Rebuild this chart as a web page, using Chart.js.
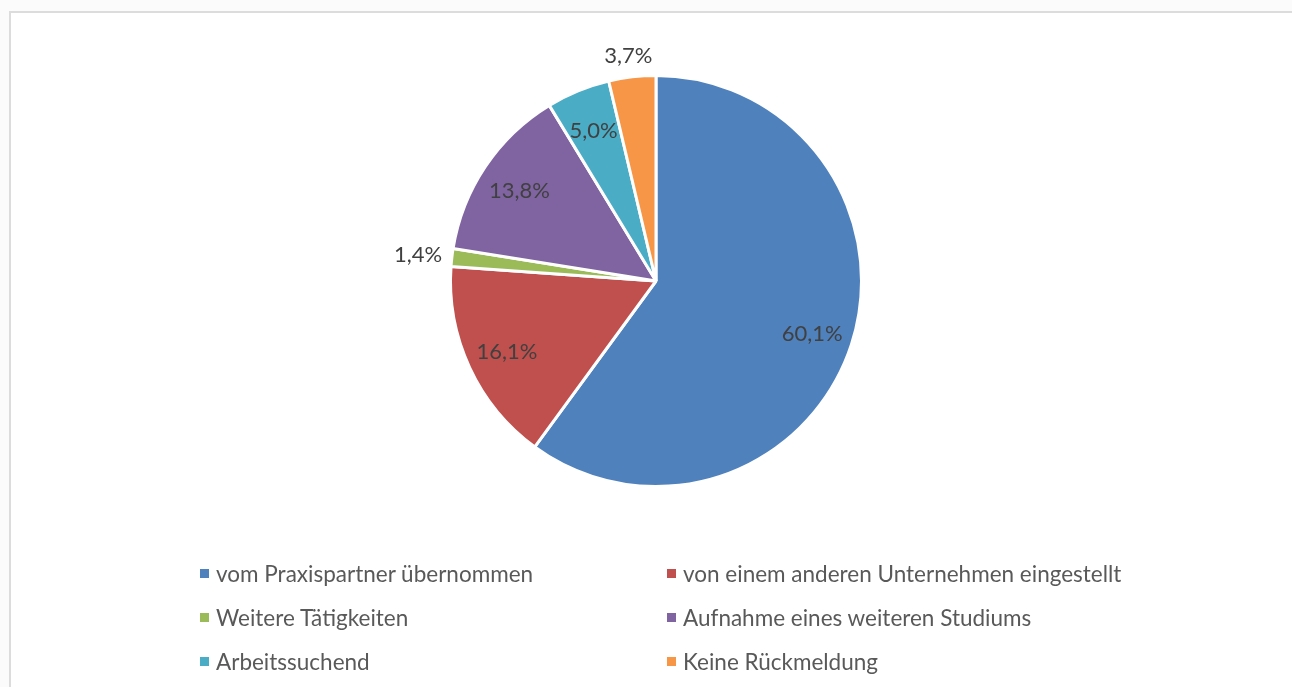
<!DOCTYPE html>
<html>
<head>
<meta charset="utf-8">
<script src="https://cdn.jsdelivr.net/npm/chart.js@4.4.1/dist/chart.umd.min.js"></script>
<style>
  html, body { margin: 0; padding: 0; background: #fbfbfb; width: 1292px; height: 687px; overflow: hidden; }
  #frame { position: absolute; left: 9px; top: 11px; width: 1300px; height: 700px; border: 2px solid #dcdcdc; background: #fff; box-sizing: border-box; }
  #wrap { position: absolute; left: 0; top: 0; width: 1292px; height: 687px; }
  #legend { position: absolute; left: 200px; top: 551px; display: grid; grid-template-columns: 467px 467px; grid-auto-rows: 44px; font-family: Lato, "Open Sans", sans-serif; font-size: 22.5px; color: #595959; }
  .item { display: flex; align-items: center; white-space: nowrap; }
  .sw { width: 9px; height: 9px; margin-right: 7px; flex: none; }
</style>
</head>
<body>
<div id="frame"></div>
<div id="wrap"><canvas id="c" width="1292" height="687"></canvas></div>
<div id="legend"></div>
<script>
const categories = [
  "vom Praxispartner übernommen",
  "von einem anderen Unternehmen eingestellt",
  "Weitere Tätigkeiten",
  "Aufnahme eines weiteren Studiums",
  "Arbeitssuchend",
  "Keine Rückmeldung"
];
const values = [60.1, 16.1, 1.4, 13.8, 5.0, 3.7];
const colors = ["#4F81BD", "#C0504D", "#9BBB59", "#8064A2", "#4BACC6", "#F79646"];

const fmt = v => v.toFixed(1).replace('.', ',') + '%';

const labelPlugin = {
  id: 'sliceLabels',
  afterDatasetsDraw(chart) {
    const ctx = chart.ctx;
    const meta = chart.getDatasetMeta(0);
    ctx.save();
    ctx.font = '22px Lato, "Open Sans", sans-serif';
    ctx.fillStyle = '#404040';
    ctx.textAlign = 'center';
    ctx.textBaseline = 'middle';
    meta.data.forEach((arc, i) => {
      const p = arc.getProps(['x', 'y', 'startAngle', 'endAngle', 'outerRadius'], true);
      const mid = (p.startAngle + p.endAngle) / 2;
      const txt = fmt(values[i]);
      const c = Math.cos(mid), s = Math.sin(mid);
      let x, y;
      if (values[i] < 4) {
        const w = ctx.measureText(txt).width;
        const r = p.outerRadius + 10;
        x = p.x + c * r + c * w / 2;
        y = p.y + s * r + s * 11;
      } else {
        const r = p.outerRadius * 0.8;
        x = p.x + c * r;
        y = p.y + s * r + 2;
      }
      ctx.fillText(txt, x, y);
    });
    ctx.restore();
  }
};

new Chart(document.getElementById('c'), {
  type: 'pie',
  data: {
    labels: categories,
    datasets: [{
      data: values,
      backgroundColor: colors,
      borderColor: '#ffffff',
      borderWidth: 3,
      hoverOffset: 0
    }]
  },
  options: {
    responsive: false,
    animation: false,
    layout: { padding: { top: 74, bottom: 199, left: 449, right: 429 } },
    plugins: { legend: { display: false }, tooltip: { enabled: false } }
  },
  plugins: [labelPlugin]
});

const lg = document.getElementById('legend');
categories.forEach((name, i) => {
  const d = document.createElement('div');
  d.className = 'item';
  const sw = document.createElement('span');
  sw.className = 'sw';
  sw.style.background = colors[i];
  const t = document.createElement('span');
  t.textContent = name;
  d.appendChild(sw); d.appendChild(t);
  lg.appendChild(d);
});
</script>
</body>
</html>
